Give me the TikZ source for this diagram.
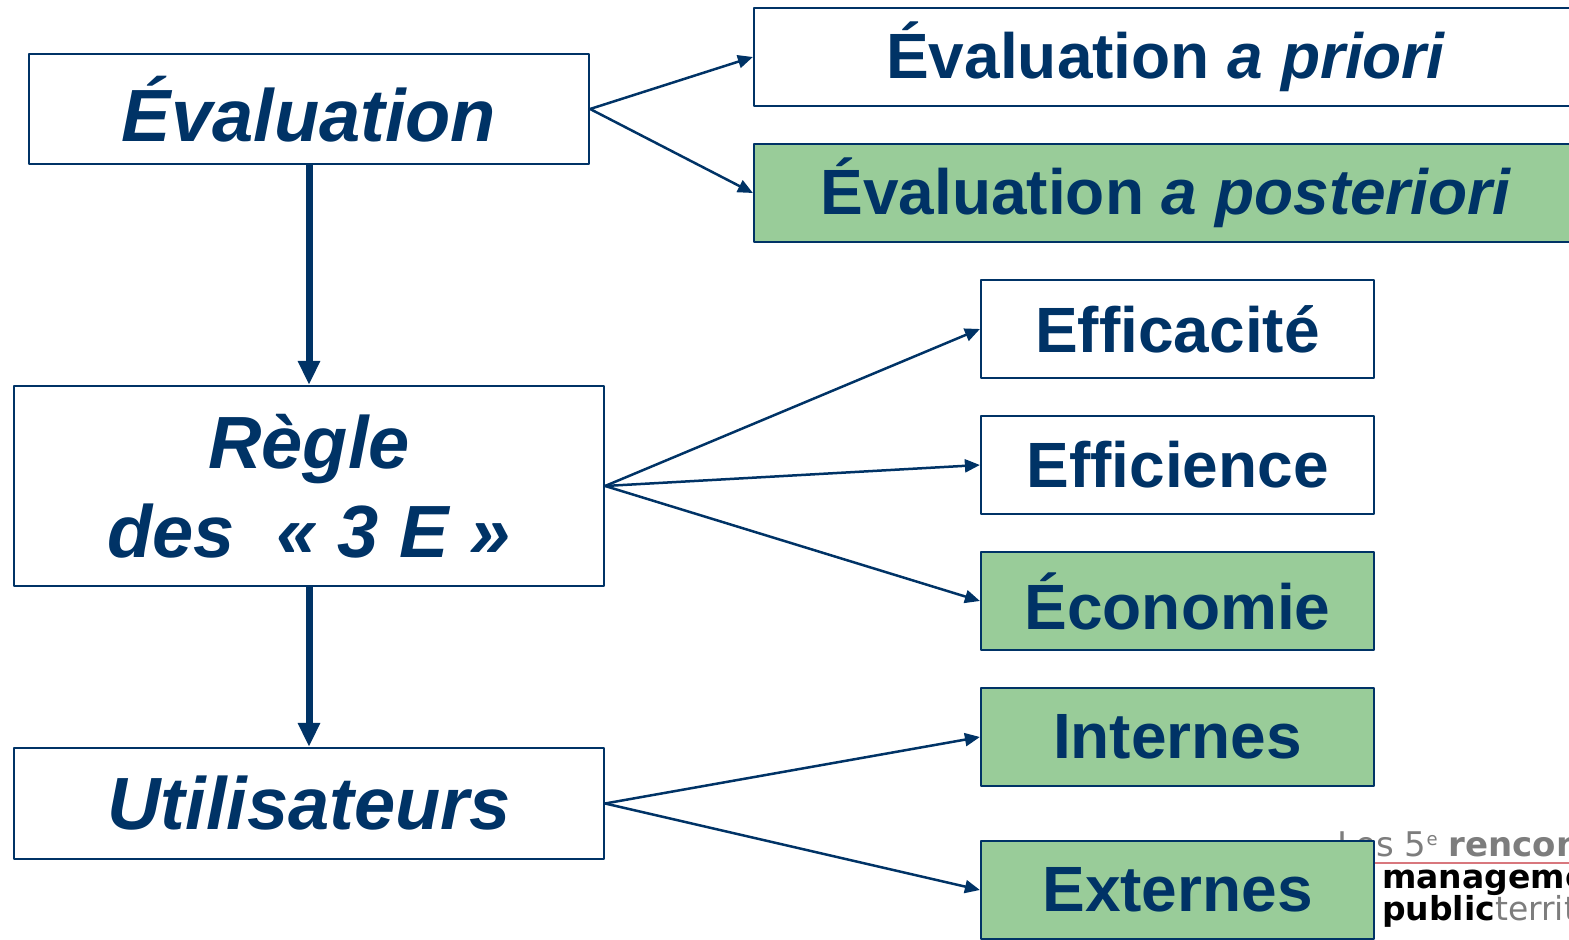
\documentclass[tikz,border=0pt]{standalone}
\usepackage{fontspec}
\setmainfont{Liberation Sans}
\newfontfamily\logofont{DejaVu Sans}
\usetikzlibrary{arrows.meta}
\definecolor{navy}{RGB}{0,51,102}
\definecolor{palegreen}{RGB}{153,204,153}
\definecolor{logogray}{RGB}{125,125,125}
\definecolor{logored}{RGB}{200,60,70}
\tikzset{
  box/.style={draw=navy,line width=2.2bp,fill=white,text=navy,inner sep=0pt,align=center,font=\fontsize{64bp}{77bp}\selectfont\bfseries},
  bigbox/.style={box,font=\fontsize{74bp}{89bp}\selectfont\bfseries\itshape},
  wide/.style={minimum width=824bp,minimum height=98bp},
  small/.style={minimum width=393bp,minimum height=98bp},
  done/.style={fill=palegreen},
  thin/.style={draw=navy,line width=2.5bp,->},
  thick/.style={draw=navy,line width=7bp,-{Triangle[length=24bp,width=21bp]}},
  logo/.style={inner sep=0pt,anchor=base west}
}
\begin{document}
\begin{tikzpicture}[>={Triangle[length=15bp,width=13bp]},line join=bevel]
\useasboundingbox (0bp,0bp) rectangle (1569bp,940bp);
\clip (0bp,0bp) rectangle (1569bp,940bp);
%%
\node (logo_top) at (1337.0bp,83.0bp) [logo,text=logogray,font=\logofont\fontsize{34bp}{34bp}\selectfont] {Les 5\raisebox{11bp}{\fontsize{18bp}{18bp}\selectfont e} \textbf{rencontres}};
  \coordinate (rule_a) at (1337.0bp,77.0bp);
  \coordinate (rule_b) at (1569.0bp,77.0bp);
  \draw [logored!70,line width=2bp] (rule_a) -- (rule_b);
  \node (logo_mid) at (1382.0bp,51.0bp) [logo,font=\logofont\fontsize{33bp}{33bp}\selectfont\bfseries] {management};
  \node (logo_low) at (1382.0bp,20.0bp) [logo,font=\logofont\fontsize{33bp}{33bp}\selectfont] {\textbf{public}\textcolor{logogray}{territorial}};
%
\node (node_priori) at (1166.0bp,883.0bp) [box,wide] {Évaluation \textit{a priori}};
  \node (node_posteriori) at (1166.0bp,747.0bp) [box,wide,done] {Évaluation \textit{a posteriori}};
  \node (node_efficacite) at (1177.5bp,611.0bp) [box,small] {Efficacité};
  \node (node_efficience) at (1177.5bp,475.0bp) [box,small] {Efficience};
  \node (node_economie) at (1177.5bp,339.0bp) [box,small,done] {Économie};
  \node (node_internes) at (1177.5bp,203.0bp) [box,small,done] {Internes};
  \node (node_externes) at (1177.5bp,50.0bp) [box,small,done] {Externes};
  \node (node_evaluation) at (309.0bp,831.0bp) [bigbox,minimum width=560bp,minimum height=110bp] {Évaluation};
  \node (node_regle) at (309.0bp,454.0bp) [bigbox,minimum width=590bp,minimum height=200bp] {Règle\\des~~«~3~E~»};
  \node (node_utilisateurs) at (309.0bp,136.5bp) [bigbox,minimum width=590bp,minimum height=111bp] {Utilisateurs};
  \draw [thin] (node_evaluation.east) -- (node_priori.west);
  \draw [thin] (node_evaluation.east) -- (node_posteriori.west);
  \draw [thin] (node_regle.east) -- (node_efficacite.west);
  \draw [thin] (node_regle.east) -- (node_efficience.west);
  \draw [thin] (node_regle.east) -- (node_economie.west);
  \draw [thin] (node_utilisateurs.east) -- (node_internes.west);
  \draw [thin] (node_utilisateurs.east) -- (node_externes.west);
  \draw [thick] (node_evaluation) -- (node_regle);
  \draw [thick] (node_regle) -- (node_utilisateurs);
%
\end{tikzpicture}
\end{document}
